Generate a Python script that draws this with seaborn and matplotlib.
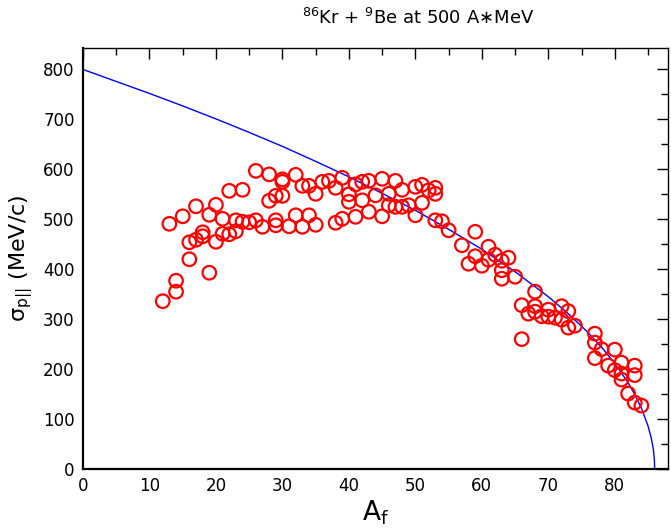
import numpy as np
import pandas as pd
import matplotlib
matplotlib.use("Agg")
import matplotlib.pyplot as plt
import seaborn as sns
from matplotlib.ticker import MultipleLocator

# ---- data ----
af = [12, 13, 14, 14, 15, 16, 16, 17, 17, 18, 18, 19, 19, 20, 20, 21, 21, 22, 22, 23,
      23, 24, 24, 25, 26, 26, 27, 28, 28, 29, 29, 29, 30, 30, 30, 31, 32, 32, 33, 33,
      34, 34, 35, 35, 36, 37, 38, 38, 39, 39, 40, 40, 41, 41, 42, 42, 43, 43, 44, 45,
      45, 46, 46, 47, 47, 48, 48, 49, 50, 50, 51, 51, 52, 53, 53, 53, 54, 55, 57, 58,
      59, 59, 60, 61, 61, 62, 63, 63, 63, 64, 65, 66, 66, 67, 68, 68, 68, 69, 70, 70,
      71, 72, 72, 73, 73, 74, 77, 77, 77, 78, 79, 80, 80, 81, 81, 81, 82, 83, 83, 83,
      84]
sigma = [336, 491, 355, 377, 506, 454, 420, 459, 526, 466, 474, 509, 393, 455, 529, 501, 471, 557, 470, 498,
         476, 559, 495, 494, 597, 498, 485, 590, 537, 498, 488, 547, 580, 575, 547, 486, 589, 508, 567, 485,
         567, 508, 551, 489, 575, 577, 563, 493, 583, 501, 550, 535, 570, 505, 575, 538, 577, 515, 548, 581,
         506, 551, 528, 577, 525, 559, 525, 528, 565, 508, 569, 533, 558, 563, 551, 498, 496, 478, 448, 411,
         475, 426, 407, 445, 419, 429, 417, 398, 381, 423, 385, 328, 260, 311, 355, 326, 315, 306, 319, 305,
         303, 326, 299, 283, 316, 287, 271, 253, 222, 240, 207, 239, 198, 213, 191, 179, 151, 207, 188, 133,
         127]

# model curve, values
curve_af = [0, 5, 10, 15, 20, 25, 30, 35, 40, 45, 50, 55, 60, 65, 70, 73, 76, 78, 80, 82,
            83, 84, 85, 85.5, 85.8, 85.95, 86]
curve_sigma = [800, 776, 752, 727, 701, 674, 646, 616, 585, 552, 518, 480, 440, 395, 345, 311, 273, 244, 211, 173,
               149, 122, 86, 61, 39, 19, 0]

title = r"$^{86}$Kr + $^{9}$Be at 500 A$\ast$MeV"
xlabel = r"A$_{\rm f}$"
ylabel = r"σ$_{\rm p||}$ (MeV/c)"

pts = pd.DataFrame({"Af": af, "sigma": sigma})
crv = pd.DataFrame({"Af": curve_af, "sigma": curve_sigma})

sns.set_theme(style="white")
plt.rcParams["font.family"] = ["DejaVu Sans"]
plt.rcParams["mathtext.fontset"] = "dejavusans"
plt.rcParams["text.color"] = "black"
plt.rcParams["axes.labelcolor"] = "black"
plt.rcParams["xtick.color"] = "black"
plt.rcParams["ytick.color"] = "black"

fig = plt.figure(figsize=(6.71, 5.29), dpi=100)
ax = fig.add_axes([83 / 671, 1 - 469 / 529, (668 - 83) / 671, (469 - 48) / 529])

sns.lineplot(data=crv, x="Af", y="sigma", ax=ax, color="#0000ff", lw=1.0,
             sort=False, estimator=None)
sns.scatterplot(data=pts, x="Af", y="sigma", ax=ax, marker="o", s=95,
                facecolors="none", edgecolor="#ff0000", linewidth=1.6, zorder=3)

ax.set_xlim(0, 88)
ax.set_ylim(0, 843)
ax.xaxis.set_major_locator(MultipleLocator(10))
ax.xaxis.set_minor_locator(MultipleLocator(5))
ax.yaxis.set_major_locator(MultipleLocator(100))
ax.yaxis.set_minor_locator(MultipleLocator(50))
ax.tick_params(which="both", direction="in", top=True, right=True, colors="black",
               labelcolor="black", labelsize=12, width=1.0)
ax.tick_params(which="major", length=8, pad=6)
ax.tick_params(which="minor", length=5)
for s in ax.spines.values():
    s.set_color("black")
    s.set_linewidth(1.0)
ax.spines["bottom"].set_linewidth(1.6)
ax.spines["left"].set_linewidth(1.6)

ax.set_xlabel(xlabel, fontsize=19, labelpad=2, color="black")
ax.set_ylabel(ylabel, fontsize=16, labelpad=6, color="black")
fig.text(418 / 671, 1 - 18 / 529, title, fontsize=13, ha="center", va="center", color="black")

fig.savefig("out.png", dpi=100)
